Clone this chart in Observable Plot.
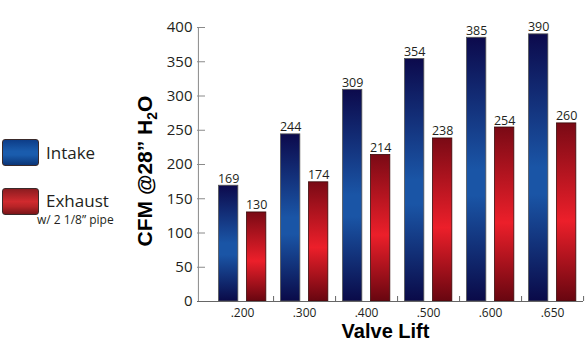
<!DOCTYPE html>
<html>
<head>
<meta charset="utf-8">
<script src="https://cdn.jsdelivr.net/npm/d3@7"></script>
<script src="https://cdn.jsdelivr.net/npm/@observablehq/plot@0.6"></script>
<style>
  html, body { margin: 0; padding: 0; background: #fff; }
  #wrap { position: relative; width: 586px; height: 344px; font-family: "Open Sans", sans-serif; color: #231f20; }
  #chart { position: absolute; left: 0; top: 0; }
  .sw { position: absolute; left: 2px; width: 37px; height: 27px; border-radius: 3px; box-sizing: border-box; border: 1px solid #3a2a2a; }
  .lab { position: absolute; white-space: nowrap; }
</style>
</head>
<body>
<div id="wrap">
  <div id="chart"></div>
  <div class="sw" style="top:139px; background: linear-gradient(#0d3d88, #1a5cad 45%, #1a5cad 60%, #0b3577);"></div>
  <div class="lab" style="left:46px; top:141px; font-size:17px;">Intake</div>
  <div class="sw" style="top:188px; background: linear-gradient(#8c1c20, #d02a2e 50%, #b82427 70%, #7a1519);"></div>
  <div class="lab" style="left:46px; top:189px; font-size:17px;">Exhaust</div>
  <div class="lab" style="left:37px; top:211px; font-size:12px;">w/ 2 1/8” pipe</div>
</div>
<script>
const lifts = [".200", ".300", ".400", ".500", ".600", ".650"];
const intake = [169, 244, 309, 354, 385, 390];
const exhaust = [130, 174, 214, 238, 254, 260];
const yTicks = [0, 50, 100, 150, 200, 250, 300, 350, 400];

const intakeData = lifts.map((l, i) => ({lift: l, value: intake[i]}));
const exhaustData = lifts.map((l, i) => ({lift: l, value: exhaust[i]}));

const W = 586, H = 344, mL = 197, mR = 3, mT = 27, mB = 43, inL = 13;
const step = (W - mR - mL - inL) / lifts.length;
const barW = 19.5;
const inOff = 7.5, exOff = 35.5;

const plot = Plot.plot({
  width: W, height: H,
  marginLeft: mL, marginRight: mR, marginTop: mT, marginBottom: mB,
  x: {domain: lifts, padding: 0, insetLeft: inL, axis: null},
  y: {domain: [0, 400], axis: null},
  style: {fontFamily: "Open Sans, sans-serif", color: "#231f20", background: "transparent"},
  marks: [
    Plot.barY(intakeData, {x: "lift", y: "value", fill: "url(#gBlue)", stroke: "#555", strokeWidth: 0.8,
      insetLeft: inOff, insetRight: step - inOff - barW}),
    Plot.barY(exhaustData, {x: "lift", y: "value", fill: "url(#gRed)", stroke: "#3a0a0a", strokeWidth: 0.8,
      insetLeft: exOff, insetRight: step - exOff - barW}),
    Plot.text(intakeData, {x: "lift", y: "value", text: d => String(d.value), lineAnchor: "bottom",
      dx: inOff + barW / 2 - step / 2, dy: -3, fontSize: 12.5, fill: "#231f20"}),
    Plot.text(exhaustData, {x: "lift", y: "value", text: d => String(d.value), lineAnchor: "bottom",
      dx: exOff + barW / 2 - step / 2, dy: -3, fontSize: 12.5, fill: "#231f20"}),
    Plot.axisY({ticks: yTicks, tickSize: 0, tickPadding: 5, label: null, fontSize: 15, fill: "#231f20"}),
    Plot.axisY({ticks: yTicks, text: null, tickSize: 8, dx: 8, stroke: "#8a8a8a", label: null}),
    Plot.ruleX([lifts[0]], {x: d => d, y1: 0, y2: 400, dx: -(step / 2) - inL, stroke: "#8a8a8a"}),
    Plot.axisX({tickSize: 0, tickPadding: 7, label: null, fontSize: 12, fill: "#231f20"}),
    Plot.axisX({text: null, tickSize: 5, dy: -5, dx: step / 2, stroke: "#666", label: null}),
    Plot.ruleY([0], {stroke: "#666"}),
    Plot.text(["Valve Lift"], {frameAnchor: "bottom", dy: 36, dx: -5, text: d => d,
      fontFamily: "Liberation Sans, Arial, sans-serif", fontWeight: "bold", fontSize: 20, fill: "#000"})
  ]
});

const svg = d3.select(plot);
svg.insert("defs", ":first-child").html(`
  <linearGradient id="gBlue" x1="0" y1="0" x2="0" y2="1">
    <stop offset="0" stop-color="#0c0a4c"/>
    <stop offset="0.5" stop-color="#1a55a6"/>
    <stop offset="0.6" stop-color="#1a55a6"/>
    <stop offset="1" stop-color="#0a0a48"/>
  </linearGradient>
  <linearGradient id="gRed" x1="0" y1="0" x2="0" y2="1">
    <stop offset="0" stop-color="#7a0a15"/>
    <stop offset="0.55" stop-color="#ec1f2a"/>
    <stop offset="1" stop-color="#680610"/>
  </linearGradient>`);

const yl = svg.append("text")
  .attr("transform", "translate(152,171) rotate(-90)")
  .attr("text-anchor", "middle")
  .attr("font-family", "Liberation Sans, Arial, sans-serif")
  .attr("font-weight", "bold")
  .attr("font-size", 21)
  .attr("fill", "#000");
yl.append("tspan").text("CFM @28” H");
yl.append("tspan").attr("dy", 5).attr("font-size", 14).text("2");
yl.append("tspan").attr("dy", -5).text("O");

document.getElementById("chart").appendChild(plot);
</script>
</body>
</html>
